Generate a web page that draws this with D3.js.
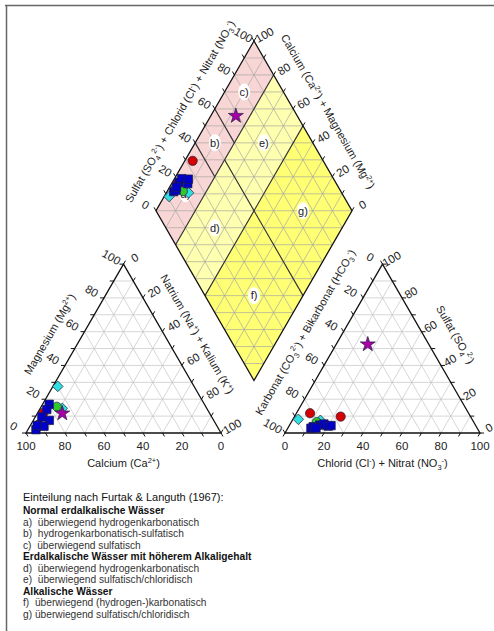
<!DOCTYPE html>
<html>
<head>
<meta charset="utf-8">
<script src="https://cdn.jsdelivr.net/npm/d3@7"></script>
<style>
  body { margin: 0; background: #fff; }
  svg { display: block; font-family: "Liberation Sans", Arial, sans-serif; }
</style>
</head>
<body>
<svg id="chart" width="494" height="631"></svg>
<script>
// one entry per water sample (values in meq-%)
const symbols   = ["square", "square", "square", "square", "square", "square", "square",
                   "red", "red", "cyan", "cyan", "green", "star"];
const calcium   = [79.6, 82.4, 87.1, 84.3, 93.9, 88.8, 92.0, 85.0, 91.0, 69.9, 74.1, 76.4, 75.6];
const magnesium = [17.0, 13.9,  9.5,  7.5,  2.0,  4.0,  4.5, 12.0,  5.0, 27.6, 14.6, 15.6, 11.6];
const natrium   = [ 3.4,  3.7,  3.4,  8.2,  4.1,  7.2,  3.5,  3.0,  4.0,  2.5, 11.3,  8.0, 12.8];
const hydrogenkarbonat = [79.8, 77.4, 85.3, 75.8, 83.7, 74.2, 82.6, 81.3, 66.6, 89.1, 78.1, 80.5, 31.3];
const sulfat    = [ 4.7,  5.3,  2.8,  4.1,  3.7,  4.4,  3.0, 11.7,  9.7,  8.1,  7.5,  6.5, 52.5];
const chlorid   = [15.5, 17.3, 11.9, 20.1, 12.6, 21.4, 14.4,  7.0, 23.7,  2.8, 14.4, 13.0, 16.2];

const tickValues = [0, 20, 40, 60, 80, 100];

// Furtak & Languth fields, in diamond units (u = SO4+Cl, v = Ca+Mg)
const boundaries = [[0, 80, 100, 80], [0, 50, 100, 50], [50, 0, 50, 80], [40, 80, 40, 100], [60, 80, 60, 100]];
const regionNames = ["a)", "b)", "c)", "d)", "e)", "f)", "g)"];
const regionU = [20, 50, 80, 25, 75, 25, 75];
const regionV = [90, 90, 90, 65, 65, 25, 25];

const legendText = [
  "Einteilung nach Furtak & Languth (1967):",
  "Normal erdalkalische Wässer",
  "a)\u00a0 überwiegend hydrogenkarbonatisch",
  "b)\u00a0 hydrogenkarbonatisch-sulfatisch",
  "c)\u00a0 überwiegend sulfatisch",
  "Erdalkalische Wässer mit höherem Alkaligehalt",
  "d)\u00a0 überwiegend hydrogenkarbonatisch",
  "e)\u00a0 überwiegend sulfatisch/chloridisch",
  "Alkalische Wässer",
  "f)\u00a0 überwiegend (hydrogen-)karbonatisch",
  "g) überwiegend sulfatisch/chloridisch"
];
const legendKind = ["title", "head", "item", "item", "item", "head", "item", "item", "head", "item", "item"];

const svg = d3.select("#chart");
const H = Math.sqrt(3) / 2;
const side = 195, dSide = 196;
const pct = d3.scaleLinear().domain([0, 100]).range([0, side]);
const dPct = d3.scaleLinear().domain([0, 100]).range([0, dSide]);
const catO = [26, 433], anO = [285, 433], diaB = [254, 380.5];

function tri(o, right, top) { return [o[0] + pct(right) + pct(top) / 2, o[1] - pct(top) * H]; }
function dia(u, v) { return [diaB[0] + (dPct(u) - dPct(v)) / 2, diaB[1] - (dPct(u) + dPct(v)) * H]; }

// frame
svg.append("line").attr("x1", 5).attr("y1", 5.5).attr("x2", 494).attr("y2", 5.5).attr("stroke", "#666").attr("stroke-width", 1.5);
svg.append("line").attr("x1", 6.5).attr("y1", 5).attr("x2", 6.5).attr("y2", 631).attr("stroke", "#666").attr("stroke-width", 1.5);

function rich(sel, parts) {
  let shift = 0;
  parts.forEach(p => {
    const t = sel.append("tspan");
    if (typeof p === "string") { t.attr("dy", -shift).text(p); shift = 0; }
    else if (p.sub) { t.attr("dy", 3 - shift).attr("font-size", "0.68em").text(p.sub); shift = 3; }
    else { t.attr("dy", -4 - shift).attr("font-size", "0.68em").text(p.sup); shift = -4; }
  });
}

const lineGen = d3.line();

// ---- diamond ----
const gd = svg.append("g");
const fills = [[80, 100, "#f9d6d6"], [50, 80, "#ffffb0"], [0, 50, "#ffff74"]];
gd.selectAll("path.fill").data(fills).join("path")
  .attr("d", d => lineGen([dia(0, d[0]), dia(100, d[0]), dia(100, d[1]), dia(0, d[1])]) + "Z")
  .attr("fill", d => d[2]);

const dGrid = [];
for (let k = 10; k < 100; k += 10) {
  dGrid.push([dia(k, 0), dia(k, 100)]);
  dGrid.push([dia(0, k), dia(100, k)]);
}
for (let t = 10; t < 200; t += 10) {
  dGrid.push(t <= 100 ? [dia(0, t), dia(t, 0)] : [dia(t - 100, 100), dia(100, t - 100)]);
}
gd.selectAll("line.grid").data(dGrid).join("line")
  .attr("x1", d => d[0][0]).attr("y1", d => d[0][1]).attr("x2", d => d[1][0]).attr("y2", d => d[1][1])
  .attr("stroke", "#a8a8a0").attr("stroke-width", 0.7);

gd.selectAll("line.bound").data(boundaries).join("line")
  .attr("x1", d => dia(d[0], d[1])[0]).attr("y1", d => dia(d[0], d[1])[1])
  .attr("x2", d => dia(d[2], d[3])[0]).attr("y2", d => dia(d[2], d[3])[1])
  .attr("stroke", "#333").attr("stroke-width", 1.1);

gd.append("path").attr("d", lineGen([dia(0, 0), dia(100, 0), dia(100, 100), dia(0, 100)]) + "Z")
  .attr("fill", "none").attr("stroke", "#111").attr("stroke-width", 1.3);

const rl = gd.selectAll("g.region").data(regionNames).join("g")
  .attr("transform", (d, i) => "translate(" + dia(regionU[i], regionV[i]) + ")");
rl.append("ellipse").attr("rx", 6).attr("ry", 8.5).attr("fill", "#fff");
rl.append("text").attr("text-anchor", "middle").attr("dy", "0.35em").attr("font-size", 11).attr("fill", "#222").text(d => d);

// ---- triangles ----
function triangle(o) {
  const g = svg.append("g");
  const lines = [];
  for (let k = 10; k < 100; k += 10) {
    lines.push([tri(o, 0, k), tri(o, 100 - k, k)]);
    lines.push([tri(o, k, 0), tri(o, k, 100 - k)]);
    lines.push([tri(o, 100 - k, 0), tri(o, 0, 100 - k)]);
  }
  g.selectAll("line").data(lines).join("line")
    .attr("x1", d => d[0][0]).attr("y1", d => d[0][1]).attr("x2", d => d[1][0]).attr("y2", d => d[1][1])
    .attr("stroke", "#c4c4c4").attr("stroke-width", 0.7);
  g.append("path").attr("d", lineGen([tri(o, 0, 0), tri(o, 100, 0), tri(o, 0, 100)]) + "Z")
    .attr("fill", "none").attr("stroke", "#111").attr("stroke-width", 1.3);
  return g;
}
const gc = triangle(catO);
const ga = triangle(anO);

// ---- axes: ticks + labels ----
function axis(pos, tickDir, labelOff, rot) {
  const g = svg.append("g");
  g.selectAll("line").data(d3.range(0, 101, 10)).join("line")
    .attr("x1", k => pos(k)[0]).attr("y1", k => pos(k)[1])
    .attr("x2", k => pos(k)[0] + tickDir[0] * 4).attr("y2", k => pos(k)[1] + tickDir[1] * 4)
    .attr("stroke", "#111").attr("stroke-width", 1);
  g.selectAll("text").data(tickValues).join("text")
    .attr("transform", k => "translate(" + (pos(k)[0] + labelOff[0]) + "," + (pos(k)[1] + labelOff[1]) + ") rotate(" + rot + ")")
    .attr("text-anchor", "middle").attr("dy", "0.35em").attr("font-size", 11.5).attr("fill", "#222")
    .text(k => k);
}
const nL = [-H, -0.5], nR = [H, -0.5];
const sc = (v, f) => [v[0] * f, v[1] * f];
axis(k => tri(catO, 0, k), [-1, 0], sc(nL, 14), 30);
axis(k => tri(catO, k, 100 - k), [0.5, -H], sc(nR, 13), -30);
axis(k => tri(catO, 100 - k, 0), [0.5, H], [0, 12.5], 0);
axis(k => tri(anO, 0, 100 - k), [-0.5, -H], sc(nL, 14), 30);
axis(k => tri(anO, 100 - k, k), [1, 0], sc(nR, 10.5), -30);
axis(k => tri(anO, k, 0), [-0.5, H], [0, 12.5], 0);
axis(k => dia(k, 100), [-0.5, -H], sc(nL, 12), 30);
axis(k => dia(100, k), [0.5, -H], sc(nR, 12), -30);

// ---- axis titles ----
function title(p1, p2, normal, dist, rot, parts) {
  const m = [(p1[0] + p2[0]) / 2 + normal[0] * dist, (p1[1] + p2[1]) / 2 + normal[1] * dist];
  const t = svg.append("text")
    .attr("transform", "translate(" + m + ") rotate(" + rot + ")")
    .attr("text-anchor", "middle").attr("font-size", 11).attr("fill", "#222").attr("y", 4);
  rich(t, parts);
}
title(dia(0, 100), dia(100, 100), nL, 29, -60,
  ["Sulfat (SO", {sub: "4"}, {sup: "2-"}, ") + Chlorid (Cl", {sup: "-"}, ") + Nitrat (NO", {sub: "3"}, {sup: "-"}, ")"]);
title(dia(100, 100), dia(100, 0), nR, 29, 60,
  ["Calcium (Ca", {sup: "2+"}, ") + Magnesium (Mg", {sup: "2+"}, ")"]);
title(tri(catO, 0, 0), tri(catO, 0, 100), nL, 29, -60, ["Magnesium (Mg", {sup: "2+"}, ")"]);
title(tri(catO, 100, 0), tri(catO, 0, 100), nR, 29, 60, ["Natrium (Na", {sup: "+"}, ") + Kalium (K", {sup: "+"}, ")"]);
title(tri(anO, 0, 0), tri(anO, 0, 100), nL, 33, -60,
  ["Karbonat (CO", {sub: "3"}, {sup: "2-"}, ") + Bikarbonat (HCO", {sub: "3"}, {sup: "-"}, ")"]);
title(tri(anO, 100, 0), tri(anO, 0, 100), nR, 28, 60, ["Sulfat (SO", {sub: "4"}, {sup: "2-"}, ")"]);
title(tri(catO, 0, 0), tri(catO, 100, 0), [0, 1], 30, 0, ["Calcium (Ca", {sup: "2+"}, ")"]);
title(tri(anO, 0, 0), tri(anO, 100, 0), [0, 1], 30, 0, ["Chlorid (Cl", {sup: "-"}, ") + Nitrat (NO", {sub: "3"}, {sup: "-"}, ")"]);

// ---- samples ----
const style = {
  square: {type: d3.symbolSquare, size: 72, fill: "#0000c8", rot: 0},
  red:    {type: d3.symbolCircle, size: 68, fill: "#d50000", rot: 0},
  cyan:   {type: d3.symbolSquare, size: 56, fill: "#30e0e0", rot: 45},
  green:  {type: d3.symbolCircle, size: 64, fill: "#30c830", rot: 0},
  star:   {type: d3.symbolStar, size: 70, fill: "#a800a8", rot: 0}
};
const order = ["red", "cyan", "green", "square", "star"];
const pts = [];
symbols.forEach((s, i) => {
  const u = sulfat[i] + chlorid[i];
  const v = calcium[i] + magnesium[i];
  pts.push({s, p: tri(catO, natrium[i], magnesium[i])});
  pts.push({s, p: tri(anO, chlorid[i], sulfat[i])});
  pts.push({s, p: dia(u, v)});
});
pts.sort((a, b) => order.indexOf(a.s) - order.indexOf(b.s));
svg.append("g").selectAll("path").data(pts).join("path")
  .attr("transform", d => "translate(" + d.p + ") rotate(" + style[d.s].rot + ")")
  .attr("d", d => d3.symbol().type(style[d.s].type).size(style[d.s].size)())
  .attr("fill", d => style[d.s].fill)
  .attr("stroke", "#202040").attr("stroke-width", 0.7);

// ---- classification legend ----
const legendY = [501, 513.5, 525.5, 537, 548.5, 560, 571.5, 583, 594.5, 606, 617.5];
svg.append("g").selectAll("text").data(legendText).join("text")
  .attr("x", 23).attr("y", (d, i) => legendY[i])
  .attr("font-size", (d, i) => legendKind[i] === "title" ? 11 : 10.2)
  .attr("font-weight", (d, i) => legendKind[i] === "head" ? "bold" : "normal")
  .attr("fill", (d, i) => legendKind[i] === "item" ? "#333" : "#111")
  .style("white-space", "pre")
  .text(d => d);
</script>
</body>
</html>
